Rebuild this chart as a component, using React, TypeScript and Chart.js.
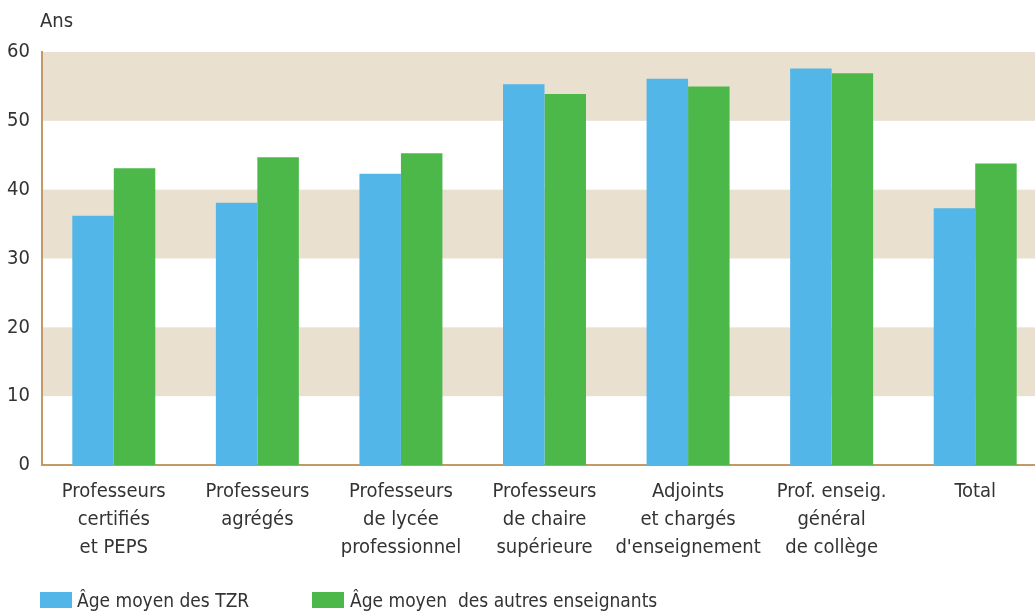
import React, { useEffect, useRef } from "react";
import { Chart, registerables } from "chart.js";

Chart.register(...registerables);

const categories: string[][] = [
  ["Professeurs", "certifiés", "et PEPS"],
  ["Professeurs", "agrégés"],
  ["Professeurs", "de lycée", "professionnel"],
  ["Professeurs", "de chaire", "supérieure"],
  ["Adjoints", "et chargés", "d'enseignement"],
  ["Prof. enseig.", "général", "de collège"],
  ["Total"],
];
const tzrValues = [36.2, 38.1, 42.3, 55.3, 56.1, 57.6, 37.3];
const otherValues = [43.1, 44.7, 45.3, 53.9, 55.0, 56.9, 43.8];
const bandRanges: [number, number][] = [
  [50, 60],
  [30, 40],
  [10, 20],
];
const seriesNames = ["Âge moyen des TZR", "Âge moyen  des autres enseignants"];

const BLUE = "#52B6E8";
const GREEN = "#4DB84A";
const BAND = "#EAE0CF";
const AXIS = "#C29A68";
const TEXT = "#333333";
const FONT = '"DejaVu Sans Condensed", "Liberation Sans Narrow", "Noto Sans", sans-serif';

const bandsPlugin = {
  id: "bands",
  beforeDraw(chart: any) {
    const { ctx, chartArea, scales } = chart;
    const y = scales.y;
    ctx.save();
    ctx.fillStyle = BAND;
    for (const [a, b] of bandRanges) {
      const top = y.getPixelForValue(b);
      const bot = y.getPixelForValue(a);
      ctx.fillRect(chartArea.left, top, chartArea.right - chartArea.left, bot - top);
    }
    ctx.restore();
  },
};

export default function App() {
  const ref = useRef<HTMLCanvasElement>(null);
  useEffect(() => {
    if (!ref.current) return;
    const chart = new Chart(ref.current, {
      type: "bar",
      data: {
        labels: categories as any,
        datasets: [
          { label: seriesNames[0], data: tzrValues, backgroundColor: BLUE, barPercentage: 1, categoryPercentage: 0.578 },
          { label: seriesNames[1], data: otherValues, backgroundColor: GREEN, barPercentage: 1, categoryPercentage: 0.578 },
        ],
      },
      options: {
        responsive: false,
        animation: false,
        devicePixelRatio: 1,
        layout: { padding: { top: 52, right: 3, bottom: 0, left: 0 } },
        plugins: { legend: { display: false }, tooltip: { enabled: false }, title: { display: false } },
        scales: {
          x: {
            grid: { display: false, drawTicks: false },
            border: { display: true, color: AXIS, width: 2 },
            ticks: { color: TEXT, font: { family: FONT, size: 20, lineHeight: 1.4 }, padding: 13, maxRotation: 0, autoSkip: false },
            afterFit: (s: any) => { s.height = 147; },
          },
          y: {
            min: 0,
            max: 60,
            grid: { display: false, drawTicks: false },
            border: { display: true, color: AXIS, width: 2 },
            ticks: { stepSize: 10, color: TEXT, font: { family: FONT, size: 20 }, padding: 12 },
            afterFit: (s: any) => { s.width = 42; },
          },
        },
      },
      plugins: [bandsPlugin],
    });
    return () => chart.destroy();
  }, []);

  const textStyle: React.CSSProperties = { position: "absolute", fontFamily: FONT, fontSize: 20, color: TEXT, lineHeight: "22px", whiteSpace: "pre" };
  const legendText: React.CSSProperties = { ...textStyle, fontSize: 19 };
  return (
    <div style={{ position: "fixed", left: 0, top: 0, width: 1035, height: 612, overflow: "hidden" }}>
      <canvas ref={ref} width={1050} height={612} style={{ display: "block", width: 1050, height: 612 }} />
      <div style={{ ...textStyle, left: 40, top: 9 }}>Ans</div>
      <div style={{ position: "absolute", left: 40, top: 592, width: 32, height: 16, background: BLUE }} />
      <div style={{ ...legendText, left: 77, top: 589 }}>{seriesNames[0]}</div>
      <div style={{ position: "absolute", left: 312, top: 592, width: 32, height: 16, background: GREEN }} />
      <div style={{ ...legendText, left: 350, top: 589 }}>{seriesNames[1]}</div>
    </div>
  );
}
